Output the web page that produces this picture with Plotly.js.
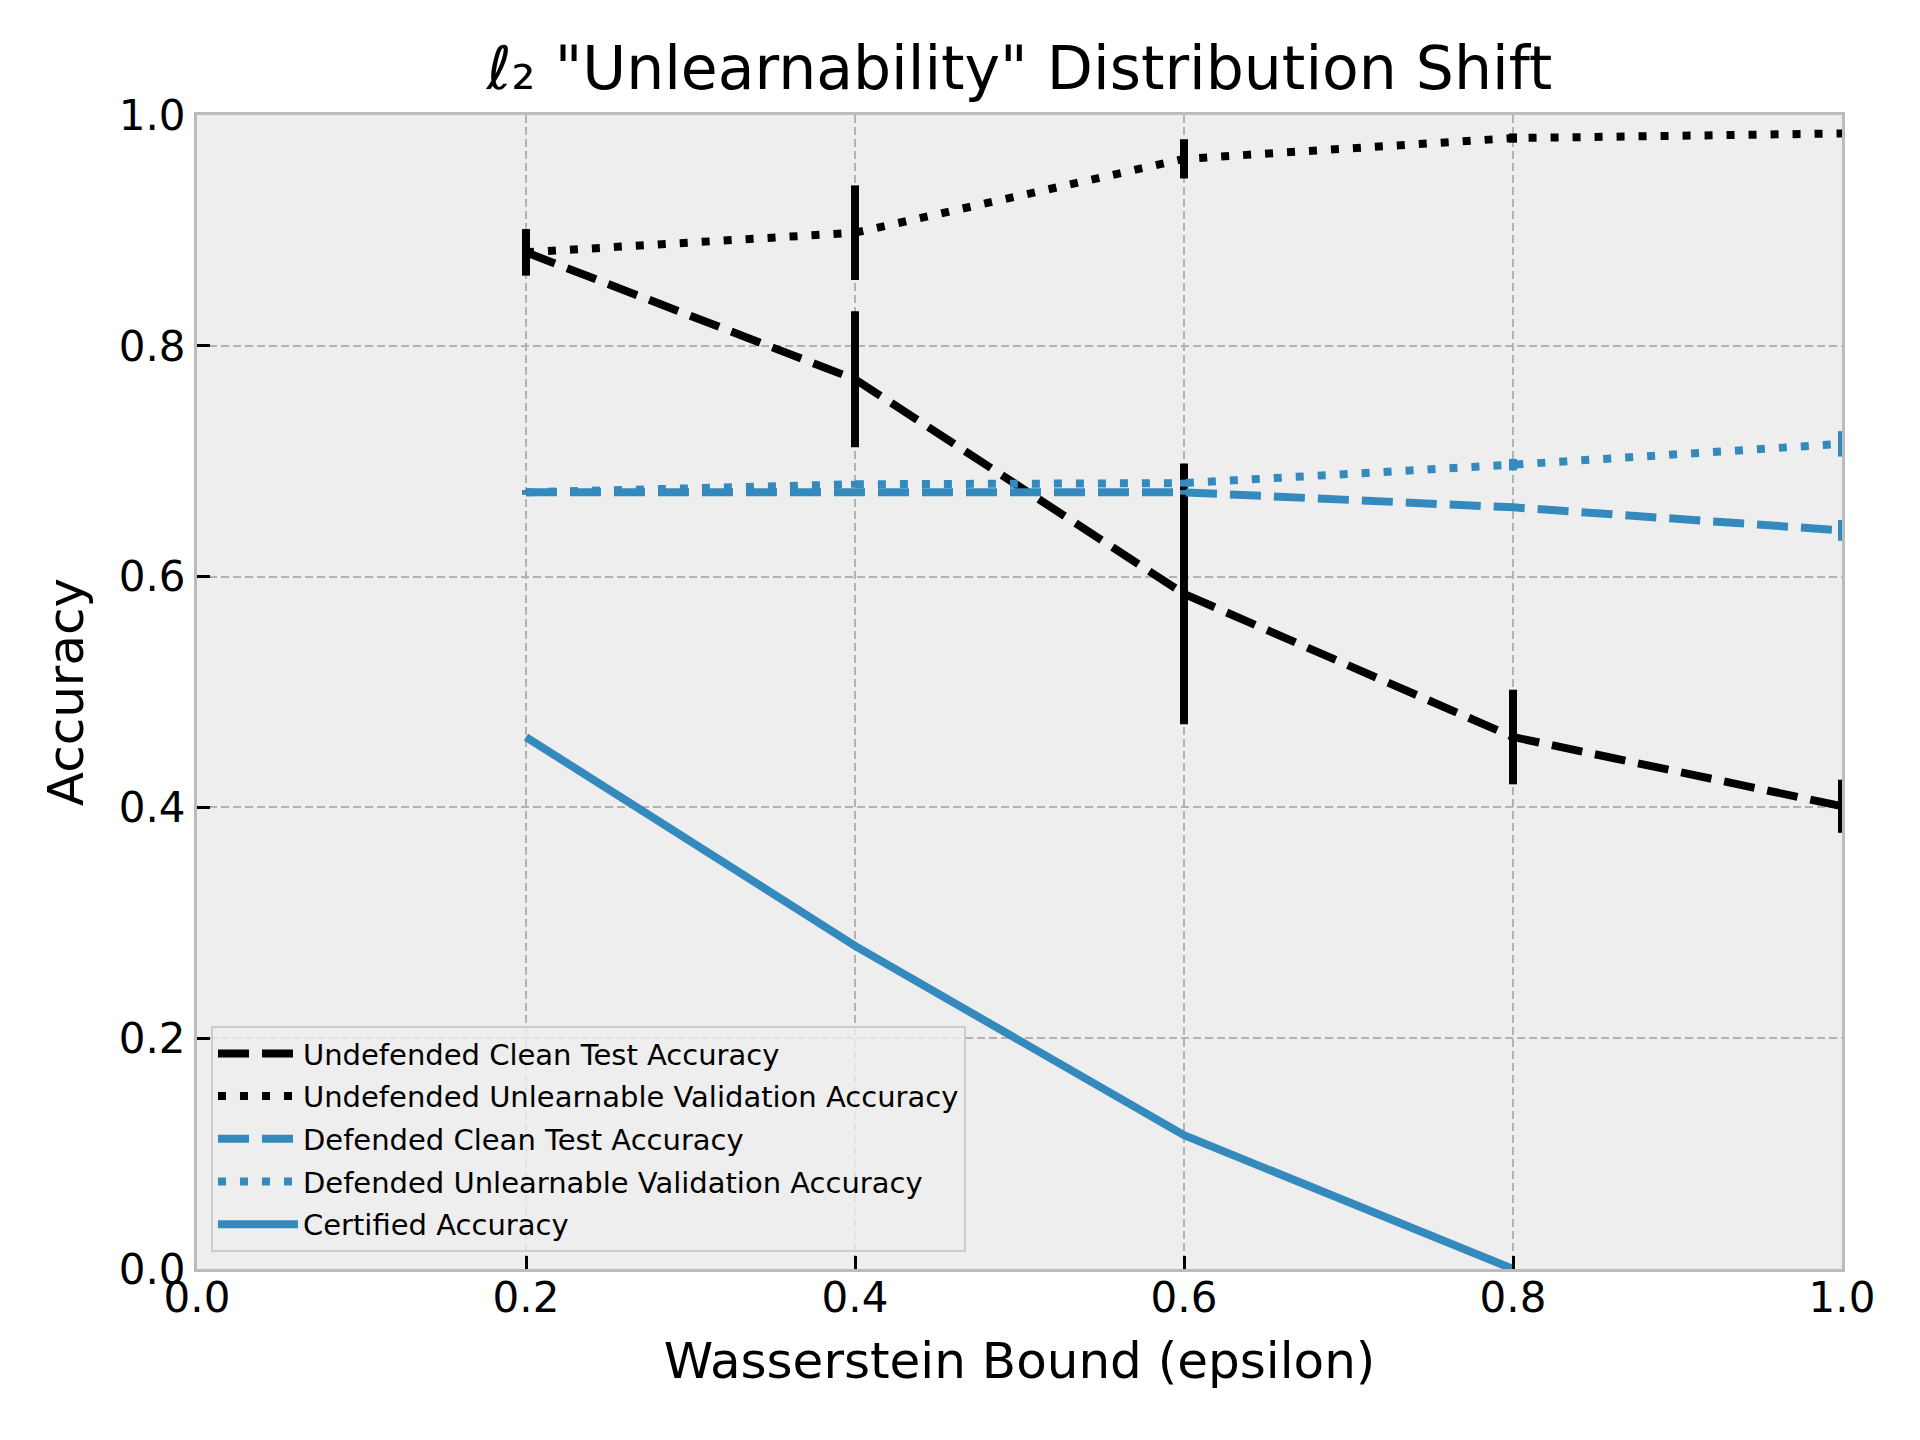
<!DOCTYPE html>
<html>
<head>
<meta charset="utf-8">
<script src="https://cdn.plot.ly/plotly-3.0.1.min.js"></script>
<style>
  body { margin: 0; background: #ffffff; }
  #chart { width: 1920px; height: 1440px; }
</style>
</head>
<body>
<div id="chart"></div>
<script>
// Wasserstein bound values (x axis)
var epsilon = [0.2, 0.4, 0.6, 0.8, 1.0];

// undefended model
var undefClean = [0.881, 0.771, 0.585, 0.461, 0.401];
var undefCleanErr = [0.020, 0.059, 0.113, 0.041, 0.023];
var undefUnlearn = [0.881, 0.898, 0.962, 0.980, 0.984];
var undefUnlearnErr = [0.020, 0.041, 0.017, 0.004, 0.003];

// defended model
var defClean = [0.673, 0.673, 0.673, 0.660, 0.640];
var defCleanErr = [0.002, 0.002, 0.002, 0.003, 0.009];
var defUnlearn = [0.673, 0.680, 0.681, 0.697, 0.715];
var defUnlearnErr = [0.002, 0.003, 0.003, 0.005, 0.011];

// certified accuracy (reaches zero at 0.8)
var certEps = [0.2, 0.4, 0.6, 0.8];
var certified = [0.461, 0.280, 0.116, 0.0];

var xTicks = [0.0, 0.2, 0.4, 0.6, 0.8, 1.0];
var yTicks = [0.0, 0.2, 0.4, 0.6, 0.8, 1.0];

var BLACK = '#000000';
var BLUE = '#348ABD';
var DASH = '31px,13px';
var DOT = '8px,14px';

function series(name, x, y, err, color, dash, group) {
  var t = {
    x: x, y: y, name: name, type: 'scatter', mode: 'lines',
    legendgroup: group,
    line: { color: color, width: 8, dash: dash },
    cliponaxis: true
  };
  if (err) {
    t.error_y = { type: 'data', array: err, visible: true, color: color, thickness: 8, width: 0 };
  }
  return t;
}

var data = [
  series('Undefended Clean Test Accuracy', epsilon, undefClean, undefCleanErr, BLACK, DASH, 'g1'),
  series('Undefended Unlearnable Validation Accuracy', epsilon, undefUnlearn, undefUnlearnErr, BLACK, DOT, 'g2'),
  series('Defended Clean Test Accuracy', epsilon, defClean, defCleanErr, BLUE, DASH, 'g3'),
  series('Defended Unlearnable Validation Accuracy', epsilon, defUnlearn, defUnlearnErr, BLUE, DOT, 'g4'),
  series('Certified Accuracy', certEps, certified, null, BLUE, 'solid', 'g5')
];

var axisCommon = {
  range: [0, 1],
  showline: true, mirror: true, linecolor: '#bcbcbc', linewidth: 3,
  showgrid: true, gridcolor: '#b2b2b2', gridwidth: 2, griddash: '8px,4px',
  zeroline: false,
  ticks: 'inside', ticklen: 13, tickwidth: 3, tickcolor: '#000000',
  tickformat: '.1f',
  tickfont: { family: 'DejaVu Sans', size: 42, color: '#000000' }
};

var layout = {
  width: 1920, height: 1440,
  paper_bgcolor: '#ffffff', plot_bgcolor: '#eeeeee',
  margin: { l: 197, r: 78, t: 115, b: 171 },
  font: { family: 'DejaVu Sans', color: '#000000' },
  showlegend: true,
  title: {
    text: 'ℓ₂ "Unlearnability" Distribution Shift',
    font: { family: 'DejaVu Sans', size: 60, color: '#000000' },
    x: 0.5, xref: 'paper', xanchor: 'center',
    y: 0.953, yref: 'container', yanchor: 'middle'
  },
  xaxis: Object.assign({}, axisCommon, {
    tickvals: xTicks,
    ticklabelstandoff: -10,
    title: { text: 'Wasserstein Bound (epsilon)', font: { family: 'DejaVu Sans', size: 50 }, standoff: 22 }
  }),
  yaxis: Object.assign({}, axisCommon, {
    tickvals: yTicks,
    title: { text: 'Accuracy', font: { family: 'DejaVu Sans', size: 50 }, standoff: 20 }
  }),
  legend: {
    x: 0.0085, y: 0.0147, xanchor: 'left', yanchor: 'bottom',
    bgcolor: 'rgba(238,238,238,0.8)', bordercolor: '#cccccc', borderwidth: 2,
    font: { family: 'DejaVu Sans', size: 29, color: '#000000' },
    traceorder: 'grouped', tracegroupgap: 2,
    itemwidth: 80
  }
};

Plotly.newPlot('chart', data, layout, { displayModeBar: false, staticPlot: true });
</script>
</body>
</html>
